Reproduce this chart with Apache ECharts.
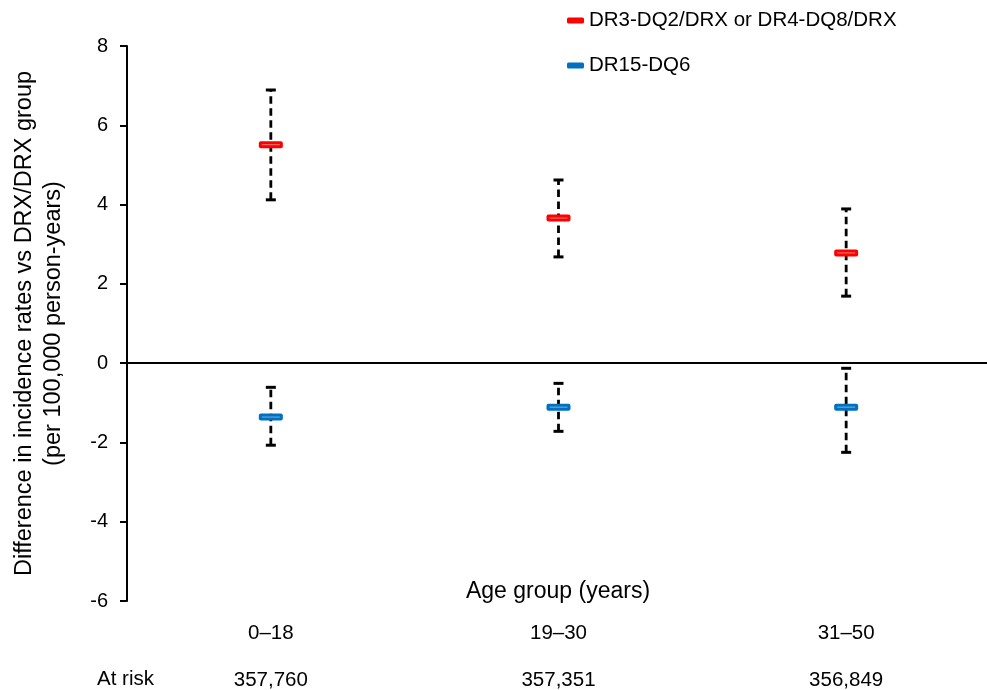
<!DOCTYPE html>
<html><head><meta charset="utf-8">
<script src="https://cdn.jsdelivr.net/npm/echarts@6/dist/echarts.min.js"></script>
<style>html,body{margin:0;padding:0;background:#fff}#c{width:987px;height:690px}</style>
</head><body><div id="c"></div>
<script>
const categories = ['0–18', '19–30', '31–50'];
const atRisk = ['357,760', '357,351', '356,849'];
const yTicks = [-6, -4, -2, 0, 2, 4, 6, 8];
const redName = 'DR3-DQ2/DRX or DR4-DQ8/DRX';
const redMean = [5.51, 3.66, 2.78];
const redLow = [4.12, 2.68, 1.69];
const redHigh = [6.89, 4.62, 3.89];
const blueName = 'DR15-DQ6';
const blueMean = [-1.36, -1.11, -1.11];
const blueLow = [-2.07, -1.72, -2.25];
const blueHigh = [-0.61, -0.51, -0.13];

const FONT = '"Liberation Sans", Arial, Helvetica, sans-serif';
const chart = echarts.init(document.getElementById('c'));

function errData(low, high) { return categories.map((c, i) => [i, low[i], high[i]]); }
function meanData(mean) { return categories.map((c, i) => [i, mean[i]]); }

function renderErr(params, api) {
  const x = api.value(0);
  const pLo = api.coord([x, api.value(1)]);
  const pHi = api.coord([x, api.value(2)]);
  const cap = 5;
  const st = { stroke: '#000', lineWidth: 3 };
  return { type: 'group', children: [
    { type: 'line', shape: { x1: pLo[0], y1: pLo[1], x2: pHi[0], y2: pHi[1] }, style: { stroke: '#000', lineWidth: 2.8, lineDash: [7.5, 4.5] } },
    { type: 'line', shape: { x1: pHi[0] - cap, y1: pHi[1], x2: pHi[0] + cap, y2: pHi[1] }, style: st },
    { type: 'line', shape: { x1: pLo[0] - cap, y1: pLo[1], x2: pLo[0] + cap, y2: pLo[1] }, style: st }
  ]};
}
function makeMarker(fill, inner) {
  return function (params, api) {
    const p = api.coord([api.value(0), api.value(1)]);
    const w = 24, h = 7;
    return { type: 'group', children: [
      { type: 'rect', shape: { x: p[0] - w / 2, y: p[1] - h / 2, width: w, height: h, r: 2 }, style: { fill: fill } },
      { type: 'line', shape: { x1: p[0] - w / 2 + 3, y1: p[1], x2: p[0] + w / 2 - 3, y2: p[1] }, style: { stroke: inner, lineWidth: 1 } }
    ]};
  };
}

const catAxisBase = { type: 'category', data: categories, boundaryGap: true, axisTick: { show: false }, splitLine: { show: false } };

chart.setOption({
  animation: false,
  textStyle: { fontFamily: FONT },
  grid: { left: 127, right: -3, top: 46, bottom: 89, containLabel: false, outerBoundsMode: 'none' },
  legend: {
    orient: 'vertical', left: 562, top: 5, itemGap: 24, itemWidth: 17, itemHeight: 6,
    icon: 'roundRect',
    textStyle: { fontFamily: FONT, fontSize: 20.5, color: '#000' },
    data: [redName, blueName]
  },
  xAxis: [
    Object.assign({}, catAxisBase, {
      axisLine: { show: true, onZero: true, lineStyle: { color: '#000', width: 2 } },
      axisLabel: { show: false }
    }),
    Object.assign({}, catAxisBase, {
      position: 'bottom',
      axisLine: { show: false, onZero: false },
      axisLabel: { show: true, margin: 22, fontSize: 20.5, color: '#000', fontFamily: FONT }
    }),
    Object.assign({}, catAxisBase, {
      position: 'bottom',
      axisLine: { show: false, onZero: false },
      axisLabel: { show: true, margin: 69, fontSize: 20.5, color: '#000', fontFamily: FONT, formatter: (v, i) => atRisk[i] }
    })
  ],
  yAxis: {
    type: 'value', min: -6, max: 8, interval: 2,
    axisLine: { show: true, lineStyle: { color: '#000', width: 2 } },
    axisTick: { show: true, inside: false, length: 7, lineStyle: { color: '#000', width: 2 } },
    axisLabel: { margin: 19, fontSize: 20, color: '#000', fontFamily: FONT, formatter: v => yTicks.includes(v) ? String(v) : '' },
    splitLine: { show: false },
    name: 'Difference in incidence rates vs DRX/DRX group\n(per 100,000 person-years)',
    nameLocation: 'middle', nameGap: 59, nameMoveOverlap: false,
    nameTextStyle: { fontSize: 23.5, color: '#000', fontFamily: FONT, lineHeight: 29 }
  },
  graphic: [
    { type: 'text', left: 97, top: 669, style: { text: 'At risk', fontSize: 20.5, fontFamily: FONT, fill: '#000' } },
    { type: 'text', x: 558, y: 592, style: { text: 'Age group (years)', fontSize: 23, fontFamily: FONT, fill: '#000', align: 'center', verticalAlign: 'middle' } }
  ],
  series: [
    { type: 'custom', name: redName + ' CI', renderItem: renderErr, data: errData(redLow, redHigh), z: 2, silent: true, itemStyle: { color: '#000' } },
    { type: 'custom', name: blueName + ' CI', renderItem: renderErr, data: errData(blueLow, blueHigh), z: 2, silent: true, itemStyle: { color: '#000' } },
    { type: 'custom', name: redName, renderItem: makeMarker('#ff0000', '#f27a7a'), data: meanData(redMean), z: 5, itemStyle: { color: '#ff0000' } },
    { type: 'custom', name: blueName, renderItem: makeMarker('#0070c0', '#7fb0dc'), data: meanData(blueMean), z: 5, itemStyle: { color: '#0070c0' } }
  ]
});
</script></body></html>
